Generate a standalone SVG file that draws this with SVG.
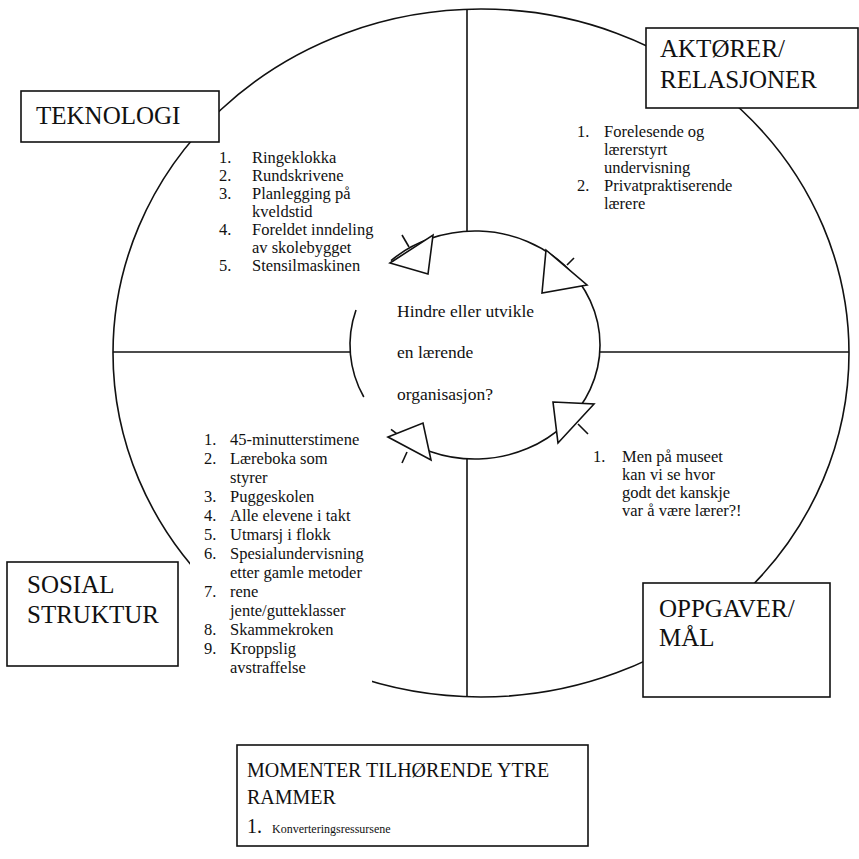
<svg xmlns="http://www.w3.org/2000/svg" width="859" height="859" viewBox="0 0 859 859" font-family="'Liberation Serif', 'Times New Roman', 'DejaVu Serif', serif">
<style>
.ln{fill:none;stroke:#111;stroke-width:1.6}
.box{fill:#fff;stroke:#111;stroke-width:1.6}
.arr{fill:#fff;stroke:#111;stroke-width:1.6;stroke-linejoin:miter}
.t{font-family:'Liberation Serif','Times New Roman','DejaVu Serif',serif;fill:#111}
.h{font-size:25px}
.li{font-size:16.5px}
.q{font-size:17.5px}
.b{font-size:20px}
</style>
<rect width="859" height="859" fill="#fff"/>
<g id="frame">
<ellipse class="ln" cx="481" cy="353" rx="368" ry="344"/>
<line class="ln" x1="467" y1="9.3" x2="467" y2="231.2"/>
<line class="ln" x1="467" y1="458.8" x2="467" y2="696.7"/>
<line class="ln" x1="113" y1="352" x2="350.2" y2="352"/>
<line class="ln" x1="599.8" y1="352" x2="849" y2="352"/>
</g>
<g id="connectors">
<path class="ln" d="M391 260.6 A125 114 0 1 1 391 429.4"/>
<path class="ln" d="M356 310 A125 114 0 0 0 363.8 397"/>
<polygon class="arr" points="390,263 433,235 428,274"/>
<line class="ln" x1="402" y1="235" x2="409" y2="247"/>
<polygon class="arr" points="546,250 587,285 542,293"/>
<line class="ln" x1="567" y1="265" x2="574" y2="258"/>
<polygon class="arr" points="553,402 594,404 558,443"/>
<line class="ln" x1="578" y1="424" x2="588" y2="434"/>
<polygon class="arr" points="388,437 423,423 431,460"/>
<line class="ln" x1="407" y1="452" x2="402" y2="463"/>
</g>
<g id="center-question" class="t q">
<text x="397" y="317">Hindre eller utvikle</text>
<text x="397" y="358">en lærende</text>
<text x="397" y="400">organisasjon?</text>
</g>
<g id="teknologi">
<rect class="box" x="21" y="91" width="198" height="51"/>
<text class="t h" x="36" y="124">TEKNOLOGI</text>
</g>
<g id="teknologi-list" class="t li">
<text x="219" y="163">1.</text><text x="252" y="163">Ringeklokka</text>
<text x="219" y="181">2.</text><text x="252" y="181">Rundskrivene</text>
<text x="219" y="199">3.</text><text x="252" y="199">Planlegging på</text>
<text x="252" y="217">kveldstid</text>
<text x="219" y="235">4.</text><text x="252" y="235">Foreldet inndeling</text>
<text x="252" y="253">av skolebygget</text>
<text x="219" y="271">5.</text><text x="252" y="271">Stensilmaskinen</text>
</g>
<g id="aktorer">
<rect class="box" x="646" y="28" width="212" height="80"/>
<text class="t h" x="660" y="57">AKTØRER/</text>
<text class="t h" x="660" y="88">RELASJONER</text>
</g>
<g id="aktorer-list" class="t li">
<text x="577" y="137">1.</text><text x="604" y="137">Forelesende og</text>
<text x="604" y="155">lærerstyrt</text>
<text x="604" y="173">undervisning</text>
<text x="577" y="191">2.</text><text x="604" y="191">Privatpraktiserende</text>
<text x="604" y="209">lærere</text>
</g>
<g id="sosial-list" class="t li">
<rect x="190" y="425" width="182" height="267" fill="#fff"/>
<text x="204" y="445">1.</text><text x="230" y="445">45-minutterstimene</text>
<text x="204" y="464">2.</text><text x="230" y="464">Læreboka som</text>
<text x="230" y="483">styrer</text>
<text x="204" y="502">3.</text><text x="230" y="502">Puggeskolen</text>
<text x="204" y="521">4.</text><text x="230" y="521">Alle elevene i takt</text>
<text x="204" y="540">5.</text><text x="230" y="540">Utmarsj i flokk</text>
<text x="204" y="559">6.</text><text x="230" y="559">Spesialundervisning</text>
<text x="230" y="578">etter gamle metoder</text>
<text x="204" y="597">7.</text><text x="230" y="597">rene</text>
<text x="230" y="616">jente/gutteklasser</text>
<text x="204" y="635">8.</text><text x="230" y="635">Skammekroken</text>
<text x="204" y="654">9.</text><text x="230" y="654">Kroppslig</text>
<text x="230" y="673">avstraffelse</text>
</g>
<g id="sosial">
<rect class="box" x="7" y="562" width="171" height="104"/>
<text class="t h" x="27" y="593">SOSIAL</text>
<text class="t h" x="27" y="623">STRUKTUR</text>
</g>
<g id="oppgaver-list" class="t li">
<text x="593" y="462">1.</text><text x="622" y="462">Men på museet</text>
<text x="622" y="480">kan vi se hvor</text>
<text x="622" y="498">godt det kanskje</text>
<text x="622" y="516">var å være lærer?!</text>
</g>
<g id="oppgaver">
<rect class="box" x="643" y="583" width="187" height="114"/>
<text class="t h" x="659" y="617">OPPGAVER/</text>
<text class="t h" x="659" y="646">MÅL</text>
</g>
<g id="ytre-rammer">
<rect class="box" x="237" y="745" width="351" height="101"/>
<text class="t b" x="247" y="777">MOMENTER TILHØRENDE YTRE</text>
<text class="t b" x="247" y="804">RAMMER</text>
<text class="t b" x="247" y="833">1.</text>
<text class="t" x="272" y="833" font-size="12">Konverteringsressursene</text>
</g>
</svg>
